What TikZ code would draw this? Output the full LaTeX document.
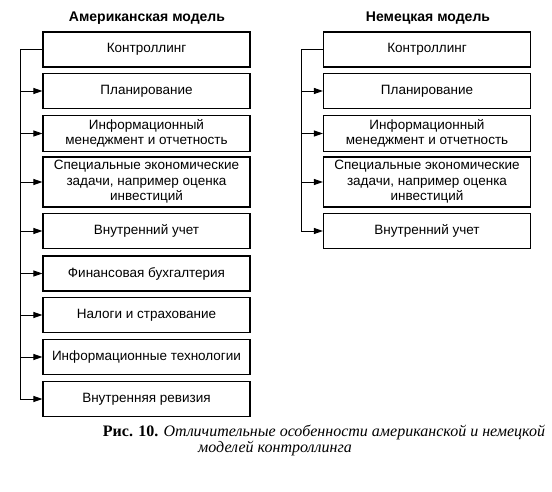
\documentclass[tikz,border=0pt]{standalone}
\usepackage{fontspec}
\setmainfont{Liberation Serif}
\newfontfamily\boxfont{Liberation Sans}
\usetikzlibrary{arrows.meta}

\begin{document}
\begin{tikzpicture}[x=1pt, y=-1pt,
		box/.style={draw, line width=1.1pt, minimum width=207pt, minimum height=35pt, inner sep=1pt, align=center, font=\boxfont\fontsize{13.5}{15.5}\selectfont},
		head/.style={font=\boxfont\bfseries\fontsize{14}{16}\selectfont},
		link/.style={line width=0.9pt},
		feed/.style={link, -{Triangle[length=9pt, width=6pt]}}]
			%%%%% START %%%%%
			\useasboundingbox (0, 0) rectangle (552, 492);
			
			\node[head] (amhead) at (147, 18) {Американская модель};
			\node[head] (dehead) at (428, 18) {Немецкая модель};
			
			\node[box] (am1) at (146.5, 49.5) {Контроллинг};
			\node[box] (am2) at (146.5, 91) {Планирование};
			\node[box, minimum height=36pt] (am3) at (146.5, 133.5) {Информационный\\менеджмент и отчетность};
			\node[box, minimum height=50pt] (am4) at (146.5, 182) {Специальные экономические\\задачи, например оценка\\инвестиций};
			\node[box] (am5) at (146.5, 231) {Внутренний учет};
			\node[box] (am6) at (146.5, 273.5) {Финансовая бухгалтерия};
			\node[box] (am7) at (146.5, 315) {Налоги и страхование};
			\node[box] (am8) at (146.5, 357) {Информационные технологии};
			\node[box] (am9) at (146.5, 399) {Внутренняя ревизия};
			
			\node[box] (de1) at (427, 49.5) {Контроллинг};
			\node[box] (de2) at (427, 91) {Планирование};
			\node[box, minimum height=36pt] (de3) at (427, 133.5) {Информационный\\менеджмент и отчетность};
			\node[box, minimum height=50pt] (de4) at (427, 182) {Специальные экономические\\задачи, например оценка\\инвестиций};
			\node[box] (de5) at (427, 231) {Внутренний учет};
			
			\coordinate (amspine) at (20, 0);
			\coordinate (despine) at (301, 0);
			
			\draw[link] (am1.west) -- (am1.west -| amspine) -- (am9.west -| amspine);
			\draw[feed] (am2.west -| amspine) -- (am2.west);
			\draw[feed] (am3.west -| amspine) -- (am3.west);
			\draw[feed] (am4.west -| amspine) -- (am4.west);
			\draw[feed] (am5.west -| amspine) -- (am5.west);
			\draw[feed] (am6.west -| amspine) -- (am6.west);
			\draw[feed] (am7.west -| amspine) -- (am7.west);
			\draw[feed] (am8.west -| amspine) -- (am8.west);
			\draw[feed] (am9.west -| amspine) -- (am9.west);
			
			\draw[link] (de1.west) -- (de1.west -| despine) -- (de5.west -| despine);
			\draw[feed] (de2.west -| despine) -- (de2.west);
			\draw[feed] (de3.west -| despine) -- (de3.west);
			\draw[feed] (de4.west -| despine) -- (de4.west);
			\draw[feed] (de5.west -| despine) -- (de5.west);
			
			\node[font=\fontsize{16}{18}\selectfont] (cap1) at (324, 432) {\textbf{Рис. 10.} \textit{Отличительные особенности американской и немецкой}};
			\node[font=\fontsize{16}{18}\selectfont] (cap2) at (275, 449) {\textit{моделей контроллинга}};
			%%%%% END %%%%%
		\end{tikzpicture}
\end{document}
